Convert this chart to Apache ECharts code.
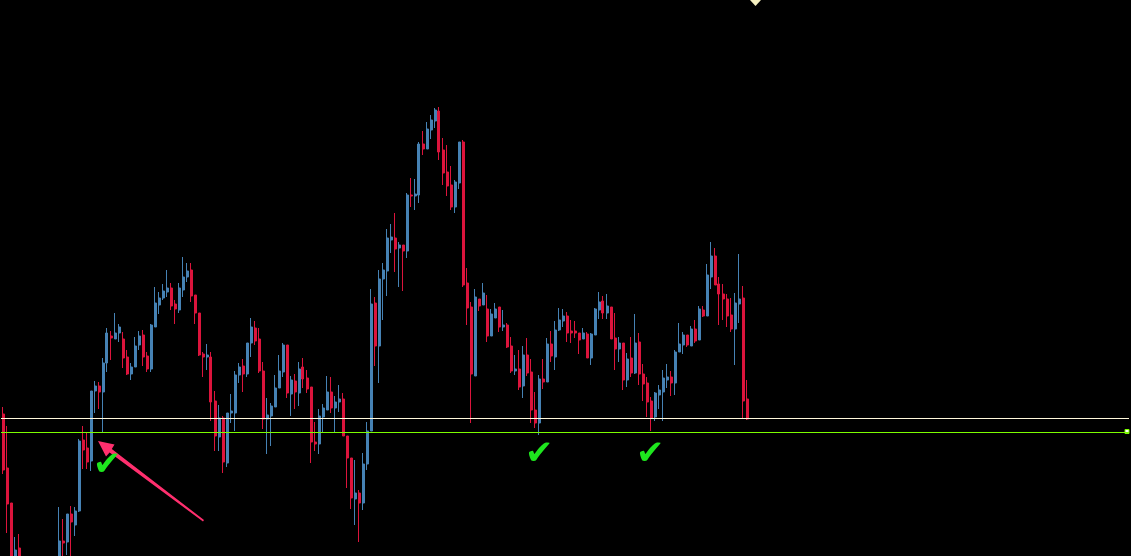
<!DOCTYPE html>
<html>
<head>
<meta charset="utf-8">
<script src="https://cdn.jsdelivr.net/npm/echarts@6/dist/echarts.min.js"></script>
<style>
html, body { margin: 0; padding: 0; background: #000; }
#chart { width: 1131px; height: 556px; }
</style>
</head>
<body>
<div id="chart"></div>
<script>
// candles: [open, close, low, high]
var candles = [
  [586,530,526,593],[532,496,467,574],[497,425,410,497],[420,450,408,463],[452,425,415,466],
  [425,410,402,438],[410,395,388,418],[395,404,385,412],[404,388,380,410],[388,400,382,406],
  [400,415,394,422],[415,408,400,426],[408,425,402,432],[425,438,420,440],[438,459,432,493],
  [459,457,440,481],[458,486,445,486],[486,478,440,494],[475,489,464,493],[489,559,488,561],
  [560,550,531,574],[552,538,531,567],[539,609,529,609],[609,614,587,619],[614,608,591,618],
  [608,637,568,642],[637,667,628,672],[664,662,640,669],[661,667,661,687],[667,673,658,676],
  [661,642,632,668],[643,626,625,650],[626,633,620,637],[633,654,633,663],[655,664,650,669],
  [665,643,634,670],[644,631,628,648],[631,675,628,676],[673,697,673,713],[695,702,686,708],
  [702,709,700,716],[708,712,703,730],[712,694,690,717],[696,691,676,700],[690,712,687,717],
  [710,723,703,743],[723,729,718,737],[730,704,698,737],[705,687,676,705],[687,645,644,687],
  [646,643,623,648],[643,645,630,656],[643,598,579,648],[599,564,549,609],[563,582,549,595],
  [582,538,527,584],[537,587,533,587],[587,589,577,606],[587,625,569,629],[625,633,617,637],
  [634,626,608,641],[626,657,623,657],[657,673,643,682],[672,659,655,679],[661,629,627,672],
  [629,581,571,638],[581,585,546,602],[584,594,554,597],[593,612,593,625],[612,629,612,645],
  [628,655,623,657],[655,607,602,655],[606,620,584,624],[619,608,591,626],[607,631,594,638],
  [633,621,612,642],[622,611,607,630],[613,558,537,613],[558,556,549,578],[556,584,546,591],
  [583,592,567,596],[590,608,590,624],[608,592,587,623],[592,598,567,604],[598,601,588,615],
  [601,564,564,607],[564,542,512,564],[542,502,491,542],[501,507,475,540],[507,497,458,510],
  [497,536,490,547],[536,569,530,578],[569,696,569,711],[697,654,634,703],[654,721,617,730],
  [721,730,680,737],[729,762,704,771],[760,763,747,776],[762,751,728,787],[752,755,713,758],
  [755,749,709,755],[749,805,742,807],[805,804,793,822],[804,806,790,821],[805,856,797,858],
  [856,851,845,869],[851,871,851,878],[870,880,861,885],[879,890,872,892],[889,848,840,893],
  [850,827,815,862],[828,814,804,855],[815,793,790,834],[793,818,787,820],[817,858,811,858],
  [858,715,713,860],[717,692,675,732],[693,626,577,698],[624,703,624,711],[701,694,689,701],
  [695,707,695,717],[691,664,658,705],[664,686,664,691],[682,691,682,697],[693,673,668,693],
  [673,675,669,690],[675,653,652,677],[654,629,627,663],[629,631,625,645],[631,613,610,650],
  [614,645,602,654],[645,627,624,662],[628,590,577,641],[590,577,572,608],[577,621,565,625],
  [621,618,611,641],[618,656,618,662],[656,644,638,669],[643,670,630,679],[670,680,669,692],
  [679,684,673,691],[684,667,658,688],[669,667,657,680],[669,667,662,679],[667,660,646,667],
  [661,667,661,672],[666,642,642,668],[642,666,635,667],[665,691,665,692],[690,698,681,708],
  [699,687,681,704],[687,694,681,706],[693,661,661,693],[662,651,630,687],[651,657,638,663],
  [657,620,610,657],[620,641,613,647],[642,627,623,663],[627,657,626,686],[658,626,615,667],
  [626,616,599,636],[617,598,583,623],[599,582,569,603],[583,607,579,608],[605,610,591,615],
  [608,622,579,630],[620,623,612,636],[623,617,604,629],[617,648,605,650],[648,656,648,677],
  [655,665,646,668],[665,655,653,665],[654,671,654,674],[671,659,657,680],[660,691,660,694],
  [690,684,683,694],[684,725,684,736],[723,744,711,758],[744,715,715,752],[716,706,675,723],
  [706,701,680,716],[701,684,673,706],[685,671,668,702],[671,697,635,707],[696,701,677,746],
  [702,599,582,714],[601,581,580,620]
];
var levelCream = 582;
var levelGreen = 568;
var slotCount = 282;

var slots = [];
for (var i = 0; i < slotCount; i++) { slots.push(String(i + 1)); }

var myChart = echarts.init(document.getElementById('chart'));
var option = {
    backgroundColor: '#000',
    animation: false,
    grid: { left: 1, right: 2, top: 0, bottom: 0 },
    xAxis: {
        type: 'category',
        data: slots,
        show: false,
        boundaryGap: true
    },
    yAxis: {
        type: 'value',
        min: 444,
        max: 1000,
        show: false,
        splitLine: { show: false }
    },
    series: [
        {
            type: 'candlestick',
            data: candles,
            barWidth: 2.5,
            clip: true,
            itemStyle: {
                color: '#4682b4',
                color0: '#dc143c',
                borderColor: '#4682b4',
                borderColor0: '#dc143c',
                borderWidth: 1
            },
            markLine: {
                silent: true,
                symbol: ['none', 'none'],
                label: { show: false },
                data: [
                    { yAxis: levelCream, lineStyle: { color: '#fff8dc', width: 1, type: 'solid' } },
                    { yAxis: levelGreen, lineStyle: { color: '#7cfc00', width: 1, type: 'solid' } }
                ]
            }
        }
    ],
    graphic: [
        // 顶部小三角
        { type: 'polygon', shape: { points: [[750, 0], [761, 0], [755.5, 6]] }, style: { fill: '#f5f0c0' } },
        // 绿线端点
        { type: 'rect', shape: { x: 1125, y: 429.5, width: 4, height: 4 }, style: { fill: '#fff', stroke: '#7cfc00', lineWidth: 1 } },
        // 箭头
        {
            type: 'polygon',
            shape: { points: [[98, 441], [114.5, 444.5], [111.8, 449], [204, 520], [203, 521.5], [109.6, 452.4], [106, 456.5]] },
            style: { fill: '#ff2f6e' }
        },
        // 勾
        { type: 'text', left: 93, top: 449, style: { text: '✔', fill: '#1ee61e', font: '34px "DejaVu Sans"' } },
        { type: 'text', left: 525, top: 438, style: { text: '✔', fill: '#1ee61e', font: '34px "DejaVu Sans"' } },
        { type: 'text', left: 636, top: 438, style: { text: '✔', fill: '#1ee61e', font: '34px "DejaVu Sans"' } }
    ]
};
myChart.setOption(option);
window.addEventListener('resize', function () {
    myChart.resize();
});
</script>
</body>
</html>
